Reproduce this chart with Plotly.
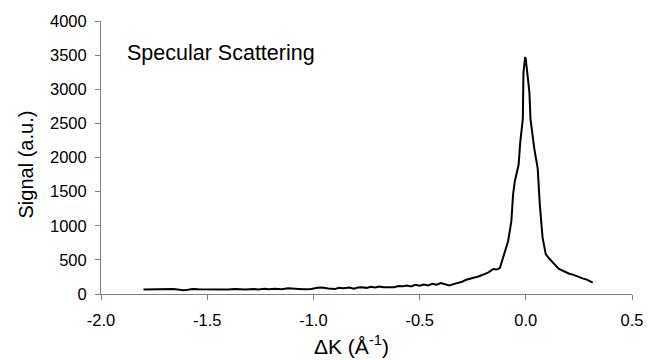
import plotly.graph_objects as go

delta_k = [
    -1.80, -1.75, -1.70, -1.68, -1.66, -1.63, -1.61, -1.59, -1.57, -1.54,
    -1.50, -1.45, -1.40, -1.37, -1.35, -1.32, -1.28, -1.26, -1.23, -1.21,
    -1.18, -1.15, -1.12, -1.10, -1.07, -1.04, -1.01, -0.98, -0.96, -0.93,
    -0.90, -0.88, -0.86, -0.83, -0.81, -0.79, -0.77, -0.75, -0.73, -0.71,
    -0.69, -0.67, -0.64, -0.62, -0.60, -0.58, -0.56, -0.54, -0.52, -0.50,
    -0.48, -0.46, -0.44, -0.42, -0.40, -0.38, -0.36, -0.34, -0.32, -0.30,
    -0.28, -0.26, -0.24, -0.22, -0.20, -0.176, -0.153, -0.137, -0.122, -0.106,
    -0.083, -0.068, -0.060, -0.052, -0.034, -0.026, -0.014, -0.011, -0.003, 0.000,
    0.006, 0.017, 0.022, 0.040, 0.056, 0.066, 0.079, 0.094, 0.110, 0.125,
    0.140, 0.156, 0.170, 0.187, 0.202, 0.225, 0.249, 0.270, 0.285, 0.295,
    0.305, 0.315,
]
signal = [
    65, 65, 66, 75, 72, 62, 55, 62, 72, 68,
    66, 66, 67, 75, 70, 66, 72, 66, 78, 70,
    76, 70, 85, 78, 75, 68, 72, 90, 95, 80,
    72, 90, 85, 95, 78, 95, 100, 90, 105, 95,
    110, 100, 105, 100, 118, 112, 125, 110, 135, 120,
    140, 125, 150, 135, 160, 140, 125, 145, 160, 180,
    210, 225, 240, 260, 285, 317, 366, 360, 380, 534,
    777, 1067, 1455, 1648, 1890, 2229, 2567, 3245, 3470, 3440,
    3245, 2955, 2567, 2131, 1841, 1310, 825, 584, 520, 462,
    420, 366, 345, 317, 301, 280, 247, 225, 215, 199,
    185, 165,
]

x_ticks = [-2.0, -1.5, -1.0, -0.5, 0.0, 0.5]
x_tick_labels = ["-2.0", "-1.5", "-1.0", "-0.5", "0.0", "0.5"]
y_ticks = [0, 500, 1000, 1500, 2000, 2500, 3000, 3500, 4000]

font_family = "Liberation Sans, Arial, sans-serif"

fig = go.Figure()
fig.add_trace(go.Scatter(
    x=delta_k, y=signal, mode="lines",
    line=dict(color="black", width=2),
    showlegend=False, hoverinfo="skip",
))

axis_common = dict(
    showgrid=False, zeroline=False, showline=True, linecolor="#808080",
    linewidth=1, ticks="outside", ticklen=5, tickcolor="#808080",
    tickfont=dict(size=16.5, color="black"),
)

fig.update_layout(
    width=655, height=360,
    margin=dict(l=101, r=14, t=18, b=66),
    paper_bgcolor="white", plot_bgcolor="white",
    font=dict(family=font_family, color="black", size=16),
    xaxis=dict(range=[-2.0, 0.5], tickvals=x_ticks, ticktext=x_tick_labels,
               ticklabelstandoff=6, **axis_common),
    yaxis=dict(range=[0, 4000], tickvals=y_ticks,
               ticklabelstandoff=5, **axis_common),
    annotations=[
        dict(text="Specular Scattering", x=0.046, y=0.881, xref="paper", yref="paper",
             xanchor="left", yanchor="middle", showarrow=False,
             font=dict(size=21.5, family=font_family, color="black")),
        dict(text="ΔK (Å<sup>-1</sup>)", x=0.472, y=-0.187, xref="paper", yref="paper",
             xanchor="center", yanchor="middle", showarrow=False,
             font=dict(size=21, family=font_family, color="black")),
        dict(text="Signal (a.u.)", x=-0.1407, y=0.4755, xref="paper", yref="paper",
             xanchor="center", yanchor="middle", showarrow=False, textangle=-90,
             font=dict(size=20, family=font_family, color="black")),
    ],
)

fig.write_html("out.html")
